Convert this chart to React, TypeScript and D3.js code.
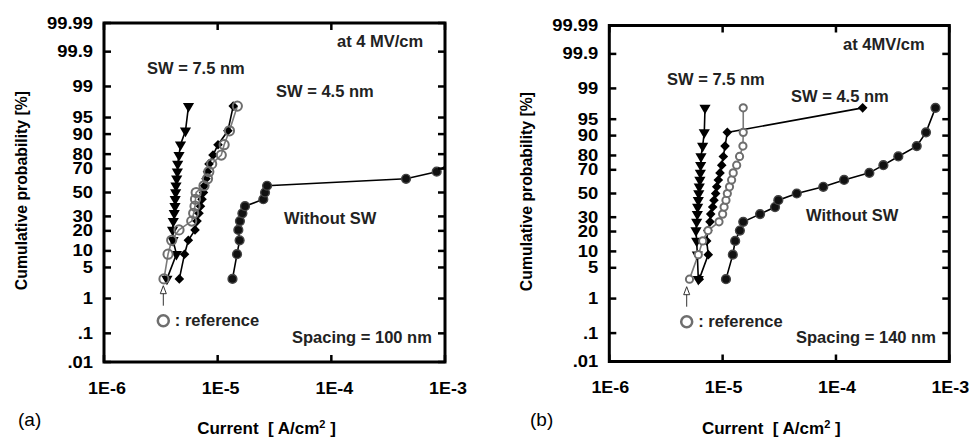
import React from "react";
import * as d3 from "d3";

// ---------- data ----------
const probabilities = [2.9, 8.8, 14.7, 20.6, 26.5, 32.4, 38.2, 44.1, 50.0, 55.9, 61.8, 67.6, 73.5, 79.4, 85.3, 91.2, 97.1];

const aSW75 = [3.58e-6, 4.34e-6, 4.05e-6, 4.01e-6, 4.07e-6, 4.15e-6, 4.21e-6, 4.23e-6, 4.27e-6, 4.30e-6, 4.36e-6, 4.42e-6, 4.45e-6, 4.57e-6, 4.71e-6, 5.21e-6, 5.54e-6];
const aSW45 = [4.60e-6, 5.11e-6, 5.52e-6, 6.32e-6, 6.58e-6, 6.85e-6, 7.06e-6, 7.28e-6, 7.50e-6, 7.66e-6, 7.89e-6, 8.14e-6, 8.39e-6, 9.10e-6, 1.007e-5, 1.23e-5, 1.37e-5];
const aWithout = [1.35e-5, 1.48e-5, 1.56e-5, 1.52e-5, 1.57e-5, 1.65e-5, 1.74e-5, 2.52e-5, 2.61e-5, 2.72e-5, 4.54e-4, 8.45e-4, 1.09e-3, 1.4e-3, 1.9e-3, 2.6e-3, 4.0e-3];
const aRef = [3.37e-6, 3.66e-6, 3.94e-6, 4.57e-6, 5.91e-6, 6.15e-6, 6.32e-6, 6.38e-6, 6.47e-6, 7.58e-6, 8.14e-6, 8.36e-6, 8.86e-6, 1.076e-5, 1.14e-5, 1.27e-5, 1.49e-5];

const bSW75 = [6.10e-6, 5.98e-6, 5.90e-6, 5.82e-6, 5.90e-6, 5.98e-6, 6.02e-6, 6.10e-6, 6.16e-6, 6.22e-6, 6.30e-6, 6.36e-6, 6.40e-6, 6.44e-6, 6.66e-6, 6.89e-6, 6.99e-6];
const bSW45 = [6.22e-6, 7.47e-6, 7.23e-6, 7.40e-6, 7.74e-6, 7.85e-6, 8.17e-6, 8.39e-6, 8.68e-6, 8.87e-6, 9.16e-6, 9.48e-6, 9.82e-6, 1.014e-5, 1.05e-5, 1.10e-5, 1.72e-4];
const bWithout = [1.07e-5, 1.23e-5, 1.29e-5, 1.42e-5, 1.52e-5, 2.14e-5, 2.90e-5, 3.10e-5, 4.51e-5, 7.73e-5, 1.18e-4, 1.97e-4, 2.62e-4, 3.55e-4, 5.16e-4, 6.23e-4, 7.55e-4];
const bRef = [5.10e-6, 6.10e-6, 6.67e-6, 7.43e-6, 9.29e-6, 1.00e-5, 1.03e-5, 1.07e-5, 1.10e-5, 1.15e-5, 1.20e-5, 1.24e-5, 1.33e-5, 1.41e-5, 1.51e-5, 1.52e-5, 1.52e-5];

const yTickValues = [0.01, 0.1, 1, 5, 10, 20, 30, 50, 70, 80, 90, 95, 99, 99.9, 99.99];
const yTickLabels = [".01", ".1", "1", "5", "10", "20", "30", "50", "70", "80", "90", "95", "99", "99.9", "99.99"];
const xTickValues = [1e-6, 1e-5, 1e-4, 1e-3];
const xTickLabels = ["1E-6", "1E-5", "1E-4", "1E-3"];

// inverse normal CDF (Acklam)
function probit(p: number): number {
  const a = [-3.969683028665376e1, 2.209460984245205e2, -2.759285104469687e2, 1.38357751867269e2, -3.066479806614716e1, 2.506628277459239];
  const b = [-5.447609879822406e1, 1.615858368580409e2, -1.556989798598866e2, 6.680131188771972e1, -1.328068155288572e1];
  const c = [-7.784894002430293e-3, -3.223964580411365e-1, -2.400758277161838, -2.549732539343734, 4.374664141464968, 2.938163982698783];
  const d = [7.784695709041462e-3, 3.224671290700398e-1, 2.445134137142996, 3.754408661907416];
  const plow = 0.02425;
  if (p < plow) {
    const q = Math.sqrt(-2 * Math.log(p));
    return (((((c[0] * q + c[1]) * q + c[2]) * q + c[3]) * q + c[4]) * q + c[5]) / ((((d[0] * q + d[1]) * q + d[2]) * q + d[3]) * q + 1);
  }
  if (p <= 1 - plow) {
    const q = p - 0.5, r = q * q;
    return ((((((a[0] * r + a[1]) * r + a[2]) * r + a[3]) * r + a[4]) * r + a[5]) * q) / (((((b[0] * r + b[1]) * r + b[2]) * r + b[3]) * r + b[4]) * r + 1);
  }
  const q = Math.sqrt(-2 * Math.log(1 - p));
  return -(((((c[0] * q + c[1]) * q + c[2]) * q + c[3]) * q + c[4]) * q + c[5]) / ((((d[0] * q + d[1]) * q + d[2]) * q + d[3]) * q + 1);
}

const FONT = "'Liberation Sans', Arial, Helvetica, sans-serif";

type Cfg = {
  id: string;
  left: number; right: number; top: number; bottom: number;
  sw75: number[]; sw45: number[]; without: number[]; ref: number[];
  refR: number; refFill: string;
  panelLabel: string; panelLabelX: number; xLabelShift: number;
  field: string; fieldPos: [number, number];
  sw75Pos: [number, number]; sw45Pos: [number, number]; withoutPos: [number, number];
  spacing: string; spacingPos: [number, number];
  legendPos: [number, number];
};

const panels: Cfg[] = [
  {
    id: "a", left: 104, right: 445, top: 23, bottom: 362,
    sw75: aSW75, sw45: aSW45, without: aWithout, ref: aRef,
    refR: 4.6, refFill: "none",
    panelLabel: "(a)", panelLabelX: 18, xLabelShift: 3,
    field: "at 4 MV/cm", fieldPos: [337, 46.5],
    sw75Pos: [147, 74], sw45Pos: [276, 96.5], withoutPos: [284, 223.5],
    spacing: "Spacing = 100 nm", spacingPos: [292, 343],
    legendPos: [163.3, 320.7],
  },
  {
    id: "b", left: 609.3, right: 949.3, top: 25.5, bottom: 361.5,
    sw75: bSW75, sw45: bSW45, without: bWithout, ref: bRef,
    refR: 3.6, refFill: "#fff",
    panelLabel: "(b)", panelLabelX: 530, xLabelShift: 1,
    field: "at 4MV/cm", fieldPos: [843, 50],
    sw75Pos: [667, 84.5], sw45Pos: [791, 102], withoutPos: [806, 221],
    spacing: "Spacing = 140 nm", spacingPos: [796, 343],
    legendPos: [686.7, 321.7],
  },
];

function Panel({ cfg }: { cfg: Cfg }) {
  const x = d3.scaleLog().domain([1e-6, 1e-3]).range([cfg.left, cfg.right]);
  const y = d3.scaleLinear().domain([probit(0.0001), probit(0.9999)]).range([cfg.bottom, cfg.top]);
  const yp = (p: number) => y(probit(p / 100));
  const line = d3.line<[number, number]>().x((d) => x(d[0])).y((d) => yp(d[1]));
  const pts = (arr: number[]) => arr.map((v, i) => [v, probabilities[i]] as [number, number]);
  const tri = d3.symbol().type(d3.symbolTriangle).size(54)()!;
  const dia = d3.symbol().type(d3.symbolSquare).size(46)()!;
  const clip = `clip-${cfg.id}`;
  const tick = 7;
  const midX = (cfg.left + cfg.right) / 2;
  const midY = (cfg.top + cfg.bottom) / 2;
  const [lx, ly] = cfg.legendPos;
  return (
    <g>
      <defs>
        <clipPath id={clip}>
          <rect x={cfg.left} y={cfg.top} width={cfg.right - cfg.left} height={cfg.bottom - cfg.top} />
        </clipPath>
      </defs>
      {/* series */}
      <g clipPath={`url(#${clip})`}>
        <path d={line(pts(cfg.sw75))!} fill="none" stroke="#000" strokeWidth={1.6} />
        <path d={line(pts(cfg.sw45))!} fill="none" stroke="#000" strokeWidth={1.6} />
        <path d={line(pts(cfg.without))!} fill="none" stroke="#000" strokeWidth={1.6} />
        <path d={line(pts(cfg.ref))!} fill="none" stroke="#7a7a7a" strokeWidth={1.6} />
        {pts(cfg.sw75).map((d, i) => (
          <path key={"t" + i} d={tri} transform={`translate(${x(d[0])},${yp(d[1])}) rotate(180)`} fill="#000" />
        ))}
        {pts(cfg.sw45).map((d, i) => (
          <path key={"d" + i} d={dia} transform={`translate(${x(d[0])},${yp(d[1])}) rotate(45)`} fill="#000" />
        ))}
        {pts(cfg.without).map((d, i) => (
          <circle key={"c" + i} cx={x(d[0])} cy={yp(d[1])} r={4.4} fill="#111" stroke="#444" strokeWidth={1.4} />
        ))}
        {pts(cfg.ref).map((d, i) => (
          <circle key={"r" + i} cx={x(d[0])} cy={yp(d[1])} r={cfg.refR} fill={cfg.refFill} stroke="#6e6e6e" strokeWidth={2} />
        ))}
      </g>
      {/* frame */}
      <rect x={cfg.left} y={cfg.top} width={cfg.right - cfg.left} height={cfg.bottom - cfg.top} fill="none" stroke="#000" strokeWidth={3} />
      {/* y ticks */}
      {yTickValues.map((v, i) => (
        <g key={"yt" + i}>
          <line x1={cfg.left} x2={cfg.left + tick} y1={yp(v)} y2={yp(v)} stroke="#000" strokeWidth={2.5} />
          <line x1={cfg.right} x2={cfg.right - tick} y1={yp(v)} y2={yp(v)} stroke="#000" strokeWidth={2.5} />
          <text transform={`translate(${cfg.left - 11},${yp(v) + 5.5}) scale(1.15,1)`} textAnchor="end" fontFamily={FONT} fontWeight="bold" fontSize={16}>
            {yTickLabels[i]}
          </text>
        </g>
      ))}
      {/* x ticks */}
      {xTickValues.map((v, i) => (
        <g key={"xt" + i}>
          <line x1={x(v)} x2={x(v)} y1={cfg.top} y2={cfg.top + tick} stroke="#000" strokeWidth={2.5} />
          <line x1={x(v)} x2={x(v)} y1={cfg.bottom} y2={cfg.bottom - tick} stroke="#000" strokeWidth={2.5} />
          <text transform={`translate(${x(v) + cfg.xLabelShift},${cfg.bottom + 31.5}) scale(1.12,1)`} textAnchor="middle" fontFamily={FONT} fontWeight="bold" fontSize={16}>
            {xTickLabels[i]}
          </text>
        </g>
      ))}
      {/* axis titles */}
      <text transform={`translate(${cfg.left - 77},${midY - 2}) rotate(-90)`} textAnchor="middle" fontFamily={FONT} fontWeight="bold" fontSize={15.8}>
        Cumulative probability [%]
      </text>
      <text x={midX - 8} y={cfg.bottom + 72} textAnchor="middle" fontFamily={FONT} fontWeight="bold" fontSize={17} style={{ whiteSpace: "pre" }}>
        {"Current\u00A0\u00A0[ A/cm"}<tspan dy={-6} fontSize={11}>2</tspan><tspan dy={6}>{"\u00A0]"}</tspan>
      </text>
      <text x={cfg.panelLabelX} y={cfg.bottom + 64} fontFamily={FONT} fontSize={19}>
        {cfg.panelLabel}
      </text>
      {/* annotations */}
      <g fontFamily={FONT} fontWeight="bold" fontSize={16.5} fill="#222">
        <text x={cfg.fieldPos[0]} y={cfg.fieldPos[1]}>{cfg.field}</text>
        <text x={cfg.sw75Pos[0]} y={cfg.sw75Pos[1]}>SW = 7.5 nm</text>
        <text x={cfg.sw45Pos[0]} y={cfg.sw45Pos[1]}>SW = 4.5 nm</text>
        <text x={cfg.withoutPos[0]} y={cfg.withoutPos[1]}>Without SW</text>
        <text x={cfg.spacingPos[0]} y={cfg.spacingPos[1]}>{cfg.spacing}</text>
        <text x={lx + 11.5} y={ly + 5}>: reference</text>
      </g>
      {/* legend marker and arrow */}
      <circle cx={lx} cy={ly} r={5.5} fill="#fff" stroke="#6e6e6e" strokeWidth={2.5} />
      <line x1={lx} x2={lx} y1={ly - 15} y2={ly - 28} stroke="#333" strokeWidth={1} />
      <path d={`M${lx - 3},${ly - 27} L${lx},${ly - 35} L${lx + 3},${ly - 27} Z`} fill="#fff" stroke="#333" strokeWidth={1} />
    </g>
  );
}

export default function App() {
  return (
    <svg width={969} height={441} style={{ position: "absolute", left: 0, top: 0, background: "#fff" }}>
      <rect x={0} y={0} width={969} height={441} fill="#fff" />
      {panels.map((p) => (
        <Panel key={p.id} cfg={p} />
      ))}
    </svg>
  );
}
